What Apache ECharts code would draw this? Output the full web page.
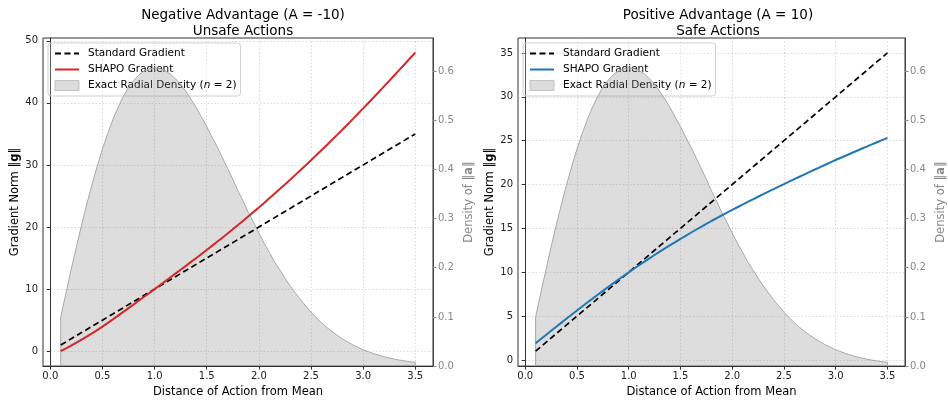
<!DOCTYPE html>
<html><head><meta charset="utf-8">
<script src="https://cdn.jsdelivr.net/npm/echarts@6/dist/echarts.min.js"></script>
<style>html,body{margin:0;padding:0;background:#fff}#c{width:948px;height:403px}</style>
</head><body><div id="c"></div>
<script>
// ---- data ----
const distance = [0.1,0.2,0.3,0.4,0.5,0.6,0.7,0.8,0.9,1.0,1.1,1.2,1.3,1.4,1.5,1.6,1.7,1.8,1.9,2.0,2.1,2.2,2.3,2.4,2.5,2.6,2.7,2.8,2.9,3.0,3.1,3.2,3.3,3.4,3.5];
const standardGrad = [1,2,3,4,5,6,7,8,9,10,11,12,13,14,15,16,17,18,19,20,21,22,23,24,25,26,27,28,29,30,31,32,33,34,35];
const shapoNegative = [0.00,0.90,1.85,2.87,3.97,5.13,6.33,7.55,8.77,10.00,11.24,12.49,13.75,15.02,16.31,17.62,18.96,20.33,21.73,23.16,24.62,26.11,27.63,29.18,30.76,32.37,34.01,35.68,37.38,39.11,40.87,42.65,44.45,46.27,48.10];
const shapoPositive = [1.90,2.85,3.79,4.72,5.64,6.55,7.44,8.31,9.16,9.99,10.80,11.58,12.34,13.08,13.80,14.50,15.18,15.84,16.48,17.10,17.71,18.31,18.90,19.48,20.05,20.61,21.16,21.71,22.25,22.79,23.31,23.82,24.32,24.82,25.32];
const densityDistance = [0.10,0.15,0.20,0.25,0.30,0.35,0.40,0.45,0.50,0.55,0.60,0.65,0.70,0.75,0.80,0.85,0.90,0.95,1.00,1.05,1.10,1.15,1.20,1.25,1.30,1.35,1.40,1.45,1.50,1.55,1.60,1.65,1.70,1.75,1.80,1.85,1.90,1.95,2.00,2.05,2.10,2.15,2.20,2.25,2.30,2.35,2.40,2.45,2.50,2.55,2.60,2.65,2.70,2.75,2.80,2.85,2.90,2.95,3.00,3.05,3.10,3.15,3.20,3.25,3.30,3.35,3.40,3.45,3.50];
const radialDensity = [0.0995,0.1483,0.1960,0.2424,0.2869,0.3292,0.3692,0.4064,0.4412,0.4724,0.5012,0.5263,0.5480,0.5662,0.5809,0.5921,0.5999,0.6043,0.6065,0.6050,0.6008,0.5940,0.5841,0.5726,0.5587,0.5426,0.5252,0.5060,0.4870,0.4658,0.4460,0.4240,0.4020,0.3800,0.3560,0.3350,0.3120,0.2920,0.2707,0.2500,0.2316,0.2120,0.1960,0.1790,0.1630,0.1490,0.1350,0.1220,0.1098,0.0985,0.0884,0.0790,0.0706,0.0627,0.0556,0.0492,0.0434,0.0383,0.0333,0.0293,0.0254,0.0222,0.0190,0.0166,0.0142,0.0121,0.0105,0.0089,0.0077];
const xTicks = [0,0.5,1,1.5,2,2.5,3,3.5];
const yTicksNeg = [0,10,20,30,40,50];
const yTicksPos = [0,5,10,15,20,25,30,35];
const densityTicks = [0,0.1,0.2,0.3,0.4,0.5,0.6];
const titles = ['Negative Advantage (A = -10)\nUnsafe Actions','Positive Advantage (A = 10)\nSafe Actions'];

const pairs = ys => distance.map((x,i)=>[x, ys[i]]);
const densPoly = [[densityDistance[0],0]]
  .concat(densityDistance.map((x,i)=>[x, radialDensity[i]]))
  .concat([[densityDistance[densityDistance.length-1],0]]);

const FONT = 'DejaVu Sans';
const grids = [
  {left:43, top:38, width:390, height:329},
  {left:518, top:38, width:390, height:329}
];
const yRanges = [[-2.4,50.45],[-0.7,36.7]];
const yTicksList = [yTicksNeg, yTicksPos];
const shapoData = [shapoNegative, shapoPositive];
const shapoColor = ['#d62728','#1f77b4'];
const sfx = ['',' '];
const FILL = 'rgba(128,128,128,0.27)';
const HIDE = {color:'rgba(0,0,0,0)', borderColor:'rgba(0,0,0,0)', borderWidth:0};

const option = {
  animation:false,
  backgroundColor:'#fff',
  textStyle:{fontFamily:FONT},
  title: titles.map((t,i)=>({
    text:t, left: grids[i].left + grids[i].width/2, top:3, textAlign:'center',
    textStyle:{fontFamily:FONT, fontSize:13.5, fontWeight:'normal', color:'#000', lineHeight:15.5}
  })),
  grid: grids.map(g=>Object.assign({show:true, borderColor:'#333', borderWidth:1, backgroundColor:'transparent'}, g)),
  legend: [0,1].map(i=>({
    left: grids[i].left + 5, top: grids[i].top + 5, orient:'vertical', z:1,
    itemGap:5, itemWidth:24, itemHeight:10,
    padding:[5,4,5,6],
    backgroundColor:'rgba(255,255,255,0.2)', borderColor:'#d0d0d0', borderWidth:1, borderRadius:3,
    textStyle:{fontFamily:FONT, fontSize:10.5, color:'#000', padding:[0,0,0,4],
      rich:{i:{fontStyle:'italic', fontFamily:FONT, fontSize:10.5, padding:[0,0,0,0]}}},
    formatter: n => n.trim().replace('(n = 2)','({i|n} = 2)'),
    data:[
      {name:'Standard Gradient'+sfx[i], itemStyle:HIDE},
      {name:'SHAPO Gradient'+sfx[i], itemStyle:HIDE},
      {name:'Exact Radial Density (n = 2)'+sfx[i], icon:'rect', itemStyle:{color:'#dcdcdc', borderColor:'#b8b8b8', borderWidth:0.8}}
    ]
  })),
  xAxis: [0,1].map(i=>({
    type:'value', gridIndex:i, min:-0.07, max:3.67,
    name:'Distance of Action from Mean', nameLocation:'middle', nameGap:17,
    nameTextStyle:{fontFamily:FONT, fontSize:11.5, color:'#000', verticalAlign:'top'},
    axisLine:{show:true, onZero:false, lineStyle:{color:'#333'}},
    axisTick:{show:true, length:3.5, customValues:xTicks, lineStyle:{color:'#333'}},
    axisLabel:{customValues:xTicks, fontFamily:FONT, fontSize:10, color:'#222', margin:5, formatter:v=>v.toFixed(1)},
    splitLine:{show:true, lineStyle:{color:'rgba(170,170,170,0.55)', type:[1.5,2], width:0.8}}
  })),
  yAxis: [
    ...[0,1].map(i=>({
      type:'value', gridIndex:i, min:yRanges[i][0], max:yRanges[i][1], position:'left',
      name:'Gradient Norm ‖{b|g}‖', nameLocation:'middle', nameGap:22,
      nameTextStyle:{fontFamily:FONT, fontSize:11.5, color:'#000', rich:{b:{fontWeight:'bold', fontFamily:FONT, fontSize:11.5, color:'#000'}}},
      axisLine:{show:true, lineStyle:{color:'#333'}},
      axisTick:{show:true, length:3.5, customValues:yTicksList[i], lineStyle:{color:'#333'}},
      axisLabel:{customValues:yTicksList[i], fontFamily:FONT, fontSize:10, color:'#222', margin:5},
      splitLine:{show:true, lineStyle:{color:'rgba(170,170,170,0.55)', type:[1.5,2], width:0.8}}
    })),
    ...[0,1].map(i=>({
      type:'value', gridIndex:i, min:0, max:0.667, position:'right',
      name:'Density of ‖{b|a}‖', nameLocation:'middle', nameGap:30,
      nameTextStyle:{fontFamily:FONT, fontSize:11.5, color:'#888', rich:{b:{fontWeight:'bold', fontFamily:FONT, fontSize:11.5, color:'#888'}}},
      axisLine:{show:true, lineStyle:{color:'#444'}},
      axisTick:{show:true, length:3.5, customValues:densityTicks, lineStyle:{color:'#888'}},
      axisLabel:{customValues:densityTicks, fontFamily:FONT, fontSize:10, color:'#888', margin:5, formatter:v=>v.toFixed(1)},
      splitLine:{show:false}
    }))
  ],
  series: []
};

[0,1].forEach(i=>{
  option.series.push({
    name:'Exact Radial Density (n = 2)'+sfx[i], type:'line', xAxisIndex:i, yAxisIndex:2+i,
    data:densPoly, showSymbol:false, symbol:'none', z:1,
    lineStyle:{color:'#a8a8a8', width:1},
    itemStyle:{color:FILL},
    areaStyle:{color:FILL, opacity:1, origin:'start'}
  });
  option.series.push({
    name:'Standard Gradient'+sfx[i], type:'line', xAxisIndex:i, yAxisIndex:i,
    data:pairs(standardGrad), showSymbol:false, symbol:'none', z:3,
    lineStyle:{color:'#000', width:1.7, type:[6,3.5]}, itemStyle:{color:'#000'}
  });
  option.series.push({
    name:'SHAPO Gradient'+sfx[i], type:'line', xAxisIndex:i, yAxisIndex:i,
    data:pairs(shapoData[i]), showSymbol:false, symbol:'none', smooth:0.3, z:4,
    lineStyle:{color:shapoColor[i], width:2}, itemStyle:{color:shapoColor[i]}
  });
});

const chart = echarts.init(document.getElementById('c'), null, {renderer:'canvas'});
chart.setOption(option);
</script>
</body></html>
